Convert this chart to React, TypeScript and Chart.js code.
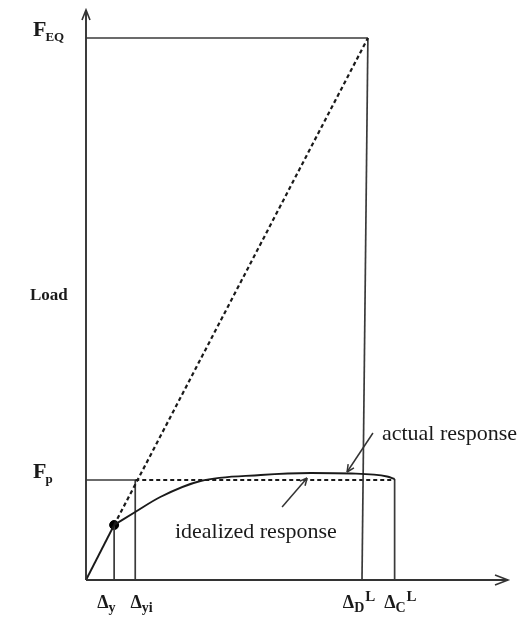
import React, { useEffect, useRef } from "react";
import { Chart, registerables } from "chart.js";

Chart.register(...registerables);

// ---- data (displacement units on x, load units on y) ----
const X_MAX = 15;
const Y_MAX = 5.7;
const dispY = 1; // Δy
const dispYi = 1.75; // Δyi
const dispDTop = 10.02; // ΔD^L at top of its line
const dispDBottom = 9.81; // ΔD^L at the axis
const dispC = 10.97; // ΔC^L
const loadEQ = 5.42; // F_EQ
const loadP = 1; // F_p
const loadYield = 0.55; // load at Δy

const elasticX = [0, dispY];
const elasticY = [0, loadYield];
const actualX = [1, 1.75, 2.64, 4.07, 6.21, 8.0, 9.43, 10.7, 10.97];
const actualY = [0.55, 0.68, 0.83, 0.99, 1.05, 1.07, 1.065, 1.035, 1.01];

const xTickLabels = [
  { main: "Δ", sub: "y", sup: "", at: 0.6 },
  { main: "Δ", sub: "yi", sup: "", at: 1.78 },
  { main: "Δ", sub: "D", sup: "L", at: 9.33 },
  { main: "Δ", sub: "C", sup: "L", at: 10.8 },
];
const yTickLabels = [
  { main: "F", sub: "EQ", value: loadEQ },
  { main: "F", sub: "p", value: loadP },
];
const yAxisTitle = "Load";
const yAxisTitleValue = 2.8;

const annotations = [
  { text: "actual response", x: 10.52, y: 1.4, fromX: 10.2, fromY: 1.47, toX: 9.28, toY: 1.08 },
  { text: "idealized response", x: 3.16, y: 0.42, fromX: 6.97, fromY: 0.73, toX: 7.86, toY: 1.02 },
];

const INK = "#1a1a1a";
const FRAME = "#3a3a3a";
const SERIF = "'Liberation Serif', 'DejaVu Serif', serif";

function seg(x1: number, y1: number, x2: number, y2: number) {
  return [
    { x: x1, y: y1 },
    { x: x2, y: y2 },
  ];
}

function lineDs(data: any[], opts: any = {}) {
  return {
    type: "line" as const,
    data,
    borderColor: opts.color || FRAME,
    borderWidth: opts.width || 1.7,
    borderDash: opts.dash || [],
    pointRadius: 0,
    fill: false,
    tension: opts.tension || 0,
    cubicInterpolationMode: opts.cubic || "default",
    clip: false as any,
  };
}

const drawPlugin = {
  id: "schematic",
  afterDatasetsDraw(chart: any) {
    const ctx: CanvasRenderingContext2D = chart.ctx;
    const xs = chart.scales.x;
    const ys = chart.scales.y;
    const px = (v: number) => xs.getPixelForValue(v);
    const py = (v: number) => ys.getPixelForValue(v);
    ctx.save();

    // axes
    ctx.strokeStyle = "#333";
    ctx.lineWidth = 1.9;
    ctx.beginPath();
    ctx.moveTo(px(0), py(0));
    ctx.lineTo(px(X_MAX), py(0));
    ctx.moveTo(px(0), py(0));
    ctx.lineTo(px(0), py(Y_MAX));
    ctx.stroke();
    // arrow heads
    ctx.lineWidth = 1.6;
    ctx.beginPath();
    ctx.moveTo(px(X_MAX) - 13, py(0) - 5);
    ctx.lineTo(px(X_MAX), py(0));
    ctx.lineTo(px(X_MAX) - 13, py(0) + 5);
    ctx.moveTo(px(0) - 4, py(Y_MAX) + 10);
    ctx.lineTo(px(0), py(Y_MAX));
    ctx.lineTo(px(0) + 4, py(Y_MAX) + 10);
    ctx.stroke();

    ctx.fillStyle = INK;
    ctx.textBaseline = "alphabetic";
    // y labels
    for (const t of yTickLabels) {
      const by = py(t.value) - 2;
      const lx = 33;
      ctx.font = `bold 22px ${SERIF}`;
      ctx.textAlign = "left";
      ctx.fillText(t.main, lx, by);
      const w = ctx.measureText(t.main).width;
      ctx.font = `bold 13px ${SERIF}`;
      ctx.fillText(t.sub, lx + w - 1, by + 5);
    }
    ctx.font = `bold 17px ${SERIF}`;
    ctx.textAlign = "left";
    ctx.fillText(yAxisTitle, 30, py(yAxisTitleValue));

    // x labels
    for (const t of xTickLabels) {
      ctx.font = `bold 18px ${SERIF}`;
      const wMain = ctx.measureText(t.main).width;
      ctx.font = `bold 14px ${SERIF}`;
      const wSub = ctx.measureText(t.sub).width;
      const lx = px(t.at) - wMain / 2;
      const by = py(0) + 28;
      ctx.textAlign = "left";
      ctx.font = `bold 18px ${SERIF}`;
      ctx.fillText(t.main, lx, by);
      ctx.font = `bold 14px ${SERIF}`;
      ctx.fillText(t.sub, lx + wMain, by + 4);
      if (t.sup) {
        ctx.font = `bold 15px ${SERIF}`;
        ctx.fillText(t.sup, lx + wMain + wSub + 1, by - 7);
      }
    }

    // annotations
    for (const a of annotations) {
      ctx.font = `22px ${SERIF}`;
      ctx.textAlign = "left";
      ctx.fillText(a.text, px(a.x), py(a.y));
      const x1 = px(a.fromX), y1 = py(a.fromY), x2 = px(a.toX), y2 = py(a.toY);
      ctx.strokeStyle = "#333";
      ctx.lineWidth = 1.5;
      ctx.beginPath();
      ctx.moveTo(x1, y1);
      ctx.lineTo(x2, y2);
      ctx.stroke();
      const ang = Math.atan2(y2 - y1, x2 - x1);
      const L = 8, spread = 0.45;
      ctx.beginPath();
      ctx.moveTo(x2, y2);
      ctx.lineTo(x2 - L * Math.cos(ang - spread), y2 - L * Math.sin(ang - spread));
      ctx.moveTo(x2, y2);
      ctx.lineTo(x2 - L * Math.cos(ang + spread), y2 - L * Math.sin(ang + spread));
      ctx.stroke();
    }
    ctx.restore();
  },
};

export default function App() {
  const ref = useRef<HTMLCanvasElement | null>(null);
  useEffect(() => {
    if (!ref.current) return;
    const elastic = elasticX.map((x, i) => ({ x, y: elasticY[i] }));
    const actual = actualX.map((x, i) => ({ x, y: actualY[i] }));
    const chart = new Chart(ref.current, {
      type: "line",
      data: {
        datasets: [
          lineDs(elastic, { color: INK, width: 1.9 }),
          lineDs(actual, { color: INK, width: 1.9, tension: 0.4, cubic: "monotone" }),
          lineDs(seg(dispY, loadYield, dispDTop, loadEQ), { color: INK, width: 2.2, dash: [4, 3] }),
          lineDs(seg(0, loadEQ, dispDTop, loadEQ)),
          lineDs(seg(dispDTop, loadEQ, dispDBottom, 0)),
          lineDs(seg(0, loadP, dispYi, loadP)),
          lineDs(seg(dispYi, loadP, dispC, loadP), { color: INK, dash: [4, 3], width: 2 }),
          lineDs(seg(dispYi, loadP, dispYi, 0)),
          lineDs(seg(dispY, loadYield, dispY, 0)),
          lineDs(seg(dispC, 1.01, dispC, 0)),
          {
            type: "scatter" as const,
            data: [{ x: dispY, y: loadYield }],
            pointRadius: 4.5,
            pointBackgroundColor: "#000",
            pointBorderColor: "#000",
            showLine: false,
            clip: false as any,
          } as any,
        ] as any,
      },
      options: {
        responsive: false,
        animation: false,
        layout: { padding: { left: 86, right: 17, top: 10, bottom: 42 } },
        plugins: { legend: { display: false }, tooltip: { enabled: false } },
        scales: {
          x: { type: "linear", min: 0, max: X_MAX, display: false },
          y: { type: "linear", min: 0, max: Y_MAX, display: false },
        },
      },
      plugins: [drawPlugin],
    });
    return () => chart.destroy();
  }, []);
  return (
    <div style={{ position: "fixed", left: 0, top: 0, width: 525, height: 622, background: "#fff" }}>
      <canvas ref={ref} width={525} height={622} style={{ display: "block" }} />
    </div>
  );
}
